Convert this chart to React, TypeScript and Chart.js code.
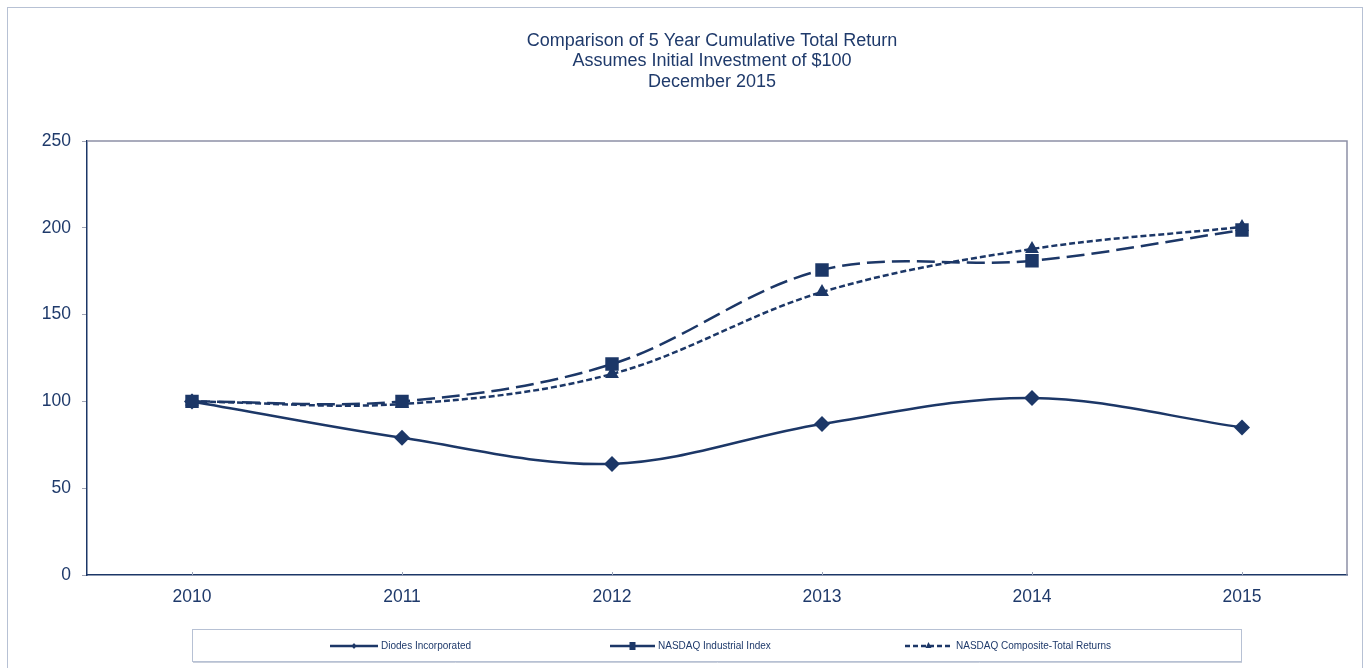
import React, { useEffect, useRef } from 'react';
import { Chart, registerables } from 'chart.js';

Chart.register(...registerables);

const years = ['2010', '2011', '2012', '2013', '2014', '2015'];
const diodes = [100, 79, 64, 87, 102, 85];
const industrial = [100, 100, 121.5, 175.7, 181, 198.7];
const composite = [100, 98.5, 115.8, 163, 187.8, 200.5];
const yTickValues = [0, 50, 100, 150, 200, 250];
const titleLines = [
  'Comparison of 5 Year Cumulative Total Return',
  'Assumes Initial Investment of $100',
  'December 2015',
];
const seriesNames = [
  'Diodes Incorporated',
  'NASDAQ Industrial Index',
  'NASDAQ Composite-Total Returns',
];

const NAVY = '#1c3767';
const TEXT = '#1f3a6b';
const FRAME = '#b7c1d4';
const FONT = '"Liberation Sans", Arial, sans-serif';

const decorPlugin = {
  id: 'decor',
  beforeDraw(chart: any) {
    const ctx = chart.ctx;
    ctx.save();
    ctx.fillStyle = '#ffffff';
    ctx.fillRect(0, 0, chart.width, chart.height);
    ctx.strokeStyle = FRAME;
    ctx.lineWidth = 1;
    ctx.strokeRect(7.5, 7.5, 1355, 720);
    // title
    ctx.fillStyle = TEXT;
    ctx.font = '18px ' + FONT;
    ctx.textAlign = 'center';
    ctx.textBaseline = 'middle';
    const ys = [41, 61.5, 82];
    titleLines.forEach((t, i) => ctx.fillText(t, 712, ys[i]));
    ctx.restore();
  },
  beforeDatasetsDraw(chart: any) {
    const ctx = chart.ctx;
    const a = chart.chartArea;
    ctx.save();
    ctx.strokeStyle = '#8d90a6';
    ctx.lineWidth = 1.5;
    ctx.beginPath();
    ctx.moveTo(a.left, a.top);
    ctx.lineTo(a.right, a.top);
    ctx.lineTo(a.right, a.bottom);
    ctx.stroke();
    const xs = chart.scales.x;
    ctx.strokeStyle = '#9aa3b8';
    ctx.lineWidth = 1;
    years.forEach((_, i) => {
      const x = Math.round(xs.getPixelForValue(i)) + 0.5;
      ctx.beginPath();
      ctx.moveTo(x, a.bottom - 3);
      ctx.lineTo(x, a.bottom);
      ctx.stroke();
    });
    ctx.restore();
  },
  afterDraw(chart: any) {
    const ctx = chart.ctx;
    ctx.save();
    ctx.strokeStyle = FRAME;
    ctx.lineWidth = 1;
    ctx.strokeRect(192.5, 629.5, 1049, 32);
    ctx.strokeStyle = '#c9cfdb';
    ctx.beginPath();
    ctx.moveTo(193, 662.5);
    ctx.lineTo(1242, 662.5);
    ctx.stroke();

    const items = [
      { x0: 330, x1: 378, tx: 381, dash: [] as number[], shape: 'diamond' },
      { x0: 610, x1: 655, tx: 658, dash: [] as number[], shape: 'square' },
      { x0: 905, x1: 952, tx: 956, dash: [5, 3], shape: 'triangle' },
    ];
    const y = 646;
    items.forEach((it, i) => {
      ctx.strokeStyle = NAVY;
      ctx.fillStyle = NAVY;
      ctx.lineWidth = 2.5;
      ctx.setLineDash(it.dash);
      ctx.beginPath();
      ctx.moveTo(it.x0, y);
      ctx.lineTo(it.x1, y);
      ctx.stroke();
      ctx.setLineDash([]);
      const cx = (it.x0 + it.x1) / 2;
      ctx.beginPath();
      if (it.shape === 'diamond') {
        ctx.moveTo(cx, y - 3);
        ctx.lineTo(cx + 2.5, y);
        ctx.lineTo(cx, y + 3);
        ctx.lineTo(cx - 2.5, y);
      } else if (it.shape === 'square') {
        ctx.rect(cx - 3, y - 4, 6, 8);
      } else {
        ctx.moveTo(cx, y - 4);
        ctx.lineTo(cx + 3, y + 2);
        ctx.lineTo(cx - 3, y + 2);
      }
      ctx.closePath();
      ctx.fill();
      ctx.fillStyle = TEXT;
      ctx.font = '10px "Liberation Sans Narrow", "Liberation Sans", Arial, sans-serif';
      ctx.textAlign = 'left';
      ctx.textBaseline = 'middle';
      ctx.fillText(seriesNames[i], it.tx, y);
    });
    ctx.restore();
  },
};

export default function App() {
  const ref = useRef<HTMLCanvasElement | null>(null);

  useEffect(() => {
    if (!ref.current) return;
    const chart = new Chart(ref.current, {
      type: 'line',
      data: {
        labels: years,
        datasets: [
          {
            label: seriesNames[0],
            data: diodes,
            borderColor: NAVY,
            backgroundColor: NAVY,
            borderWidth: 2.5,
            tension: 0.35,
            pointStyle: 'rectRot',
            pointRadius: 8,
            pointBorderWidth: 0,
            fill: false,
          },
          {
            label: seriesNames[1],
            data: industrial,
            borderColor: NAVY,
            backgroundColor: NAVY,
            borderWidth: 2.5,
            borderDash: [18, 7],
            tension: 0.35,
            pointStyle: 'rect',
            pointRadius: 9.5,
            pointBorderWidth: 0,
            fill: false,
          },
          {
            label: seriesNames[2],
            data: composite,
            borderColor: NAVY,
            backgroundColor: NAVY,
            borderWidth: 2.5,
            borderDash: [6, 3],
            tension: 0.35,
            pointStyle: 'triangle',
            pointRadius: 8,
            pointBorderWidth: 0,
            fill: false,
          },
        ],
      },
      options: {
        responsive: false,
        animation: false,
        devicePixelRatio: 1,
        layout: { padding: { left: 7, right: 20, top: 141, bottom: 53 } },
        plugins: {
          legend: { display: false },
          title: { display: false },
          tooltip: { enabled: false },
        },
        scales: {
          x: {
            type: 'category',
            offset: true,
            grid: { display: false, drawTicks: false },
            border: { display: true, color: NAVY, width: 1.5 },
            ticks: {
              color: TEXT,
              padding: 12,
              font: { family: FONT, size: 17.5 },
            },
            afterFit: (s: any) => {
              s.height = 40;
            },
          },
          y: {
            min: 0,
            max: 250,
            afterBuildTicks: (s: any) => {
              s.ticks = yTickValues.map((v) => ({ value: v }));
            },
            grid: {
              drawOnChartArea: false,
              drawTicks: true,
              tickLength: 5,
              tickColor: '#a0a4b4',
            },
            border: { display: true, color: NAVY, width: 1.5 },
            ticks: {
              color: TEXT,
              padding: 11,
              font: { family: FONT, size: 17.5 },
            },
            afterFit: (s: any) => {
              s.width = 80;
            },
          },
        },
      },
      plugins: [decorPlugin],
    } as any);
    return () => chart.destroy();
  }, []);

  return (
    <div style={{ position: 'fixed', left: 0, top: 0, width: 1367, height: 668, background: '#fff' }}>
      <canvas ref={ref} width={1367} height={668} style={{ display: 'block', width: 1367, height: 668 }} />
    </div>
  );
}
